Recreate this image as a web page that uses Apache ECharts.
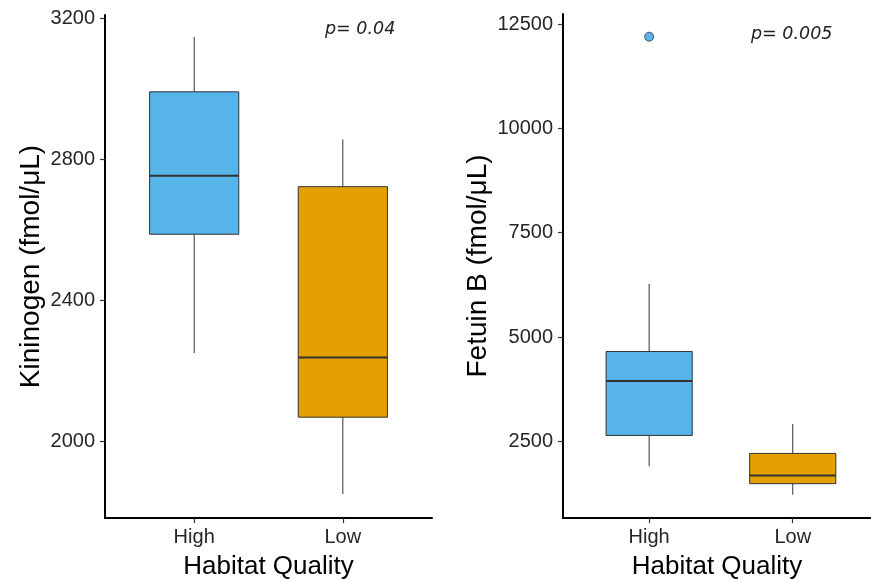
<!DOCTYPE html>
<html>
<head>
<meta charset="utf-8">
<script src="https://cdn.jsdelivr.net/npm/echarts@6/dist/echarts.min.js"></script>
<style>
  html, body { margin: 0; padding: 0; background: #fff; }
  #chart { width: 871px; height: 582px; }
</style>
</head>
<body>
<div id="chart"></div>
<script>
// ---- data ----
const categories = ['High', 'Low'];
// [lower whisker, Q1, median, Q3, upper whisker]
const kininogenHigh = [2251, 2588, 2754, 2992, 3148];
const kininogenLow  = [1851, 2069, 2238, 2723, 2857];
const fetuinHigh    = [1902, 2644, 3946, 4655, 6276];
const fetuinLow     = [1224, 1488, 1686, 2213, 2917];
const fetuinOutliersHigh = [12196];
const kininogenTicks = [2000, 2400, 2800, 3200];
const fetuinTicks = [2500, 5000, 7500, 10000, 12500];
const kininogenP = 'p= 0.04';
const fetuinP = 'p= 0.005';

// ---- styles ----
const fills = ['#56B4E9', '#E69F00'];
const FONT = 'Liberation Sans';

const chart = echarts.init(document.getElementById('chart'), null, { renderer: 'canvas' });

function boxData(high, low) {
  return [[1].concat(high), [2].concat(low)];
}

function renderBox(params, api) {
  const x = api.value(0);
  const lo = api.coord([x, api.value(1)]);
  const q1 = api.coord([x, api.value(2)]);
  const med = api.coord([x, api.value(3)]);
  const q3 = api.coord([x, api.value(4)]);
  const hi = api.coord([x, api.value(5)]);
  const w = api.size([0.6, 0])[0];
  const color = fills[params.dataIndex];
  const stroke = '#333333';
  return {
    type: 'group',
    children: [
      { type: 'line', shape: { x1: lo[0], y1: lo[1], x2: q1[0], y2: q1[1] }, style: { stroke: stroke, lineWidth: 1 } },
      { type: 'line', shape: { x1: q3[0], y1: q3[1], x2: hi[0], y2: hi[1] }, style: { stroke: stroke, lineWidth: 1 } },
      { type: 'rect', shape: { x: q3[0] - w / 2, y: q3[1], width: w, height: q1[1] - q3[1] }, style: { fill: color, stroke: stroke, lineWidth: 1 } },
      { type: 'line', shape: { x1: med[0] - w / 2, y1: med[1], x2: med[0] + w / 2, y2: med[1] }, style: { stroke: stroke, lineWidth: 2 } }
    ]
  };
}

function xAxisCfg(gridIndex, max) {
  return {
    type: 'value', gridIndex: gridIndex, min: 0.4, max: max,
    splitLine: { show: false },
    axisLine: { show: true, onZero: false, lineStyle: { color: '#000', width: 2 } },
    axisTick: { show: true, customValues: [1, 2], length: 5, lineStyle: { color: '#333', width: 1.2 } },
    axisLabel: {
      customValues: [1, 2], margin: 9,
      formatter: function (v) { return categories[Math.round(v) - 1] || ''; },
      color: '#262626', fontSize: 20, fontFamily: FONT
    },
    name: 'Habitat Quality', nameLocation: 'middle', nameGap: 36,
    nameTextStyle: { color: '#000', fontSize: 26, fontFamily: FONT }
  };
}

function yAxisCfg(gridIndex, min, max, ticks, name, gap) {
  return {
    type: 'value', gridIndex: gridIndex, min: min, max: max,
    splitLine: { show: false },
    axisLine: { show: true, onZero: false, lineStyle: { color: '#000', width: 2 } },
    axisTick: { show: true, customValues: ticks, length: 5, lineStyle: { color: '#333', width: 1.2 } },
    axisLabel: {
      customValues: ticks, margin: 10, color: '#262626', fontSize: 20, fontFamily: FONT,
      formatter: function (v) { return String(v); }
    },
    name: name, nameLocation: 'middle', nameRotate: 90, nameGap: gap,
    nameTextStyle: { color: '#000', fontSize: 28, fontFamily: FONT }
  };
}

const option = {
  backgroundColor: '#fff',
  animation: false,
  grid: [
    { left: 105, top: 15, width: 327, height: 503, containLabel: false, outerBoundsMode: 'none' },
    { left: 563, top: 14, width: 308, height: 504, containLabel: false, outerBoundsMode: 'none' }
  ],
  xAxis: [xAxisCfg(0, 2.6), xAxisCfg(1, 2.545)],
  yAxis: [
    yAxisCfg(0, 1783, 3210, kininogenTicks, 'Kininogen (fmol/μL)', 60),
    yAxisCfg(1, 666, 12740, fetuinTicks, 'Fetuin B (fmol/μL)', 71)
  ],
  series: [
    {
      type: 'custom', xAxisIndex: 0, yAxisIndex: 0,
      renderItem: renderBox,
      encode: { x: 0, y: [1, 2, 3, 4, 5] },
      data: boxData(kininogenHigh, kininogenLow)
    },
    {
      type: 'custom', xAxisIndex: 1, yAxisIndex: 1,
      renderItem: renderBox,
      encode: { x: 0, y: [1, 2, 3, 4, 5] },
      data: boxData(fetuinHigh, fetuinLow)
    },
    {
      type: 'scatter', xAxisIndex: 1, yAxisIndex: 1,
      symbol: 'circle', symbolSize: 9,
      itemStyle: { color: fills[0], borderColor: '#333', borderWidth: 0.8, opacity: 1 },
      data: fetuinOutliersHigh.map(function (v) { return [1, v]; })
    }
  ],
  graphic: [
    { type: 'text', left: 325, top: 20, style: { text: kininogenP, fontFamily: 'DejaVu Sans', fontStyle: 'italic', fontSize: 17.5, fill: '#222' } },
    { type: 'text', left: 751, top: 25, style: { text: fetuinP, fontFamily: 'DejaVu Sans', fontStyle: 'italic', fontSize: 17.5, fill: '#222' } }
  ]
};

chart.setOption(option);
</script>
</body>
</html>
